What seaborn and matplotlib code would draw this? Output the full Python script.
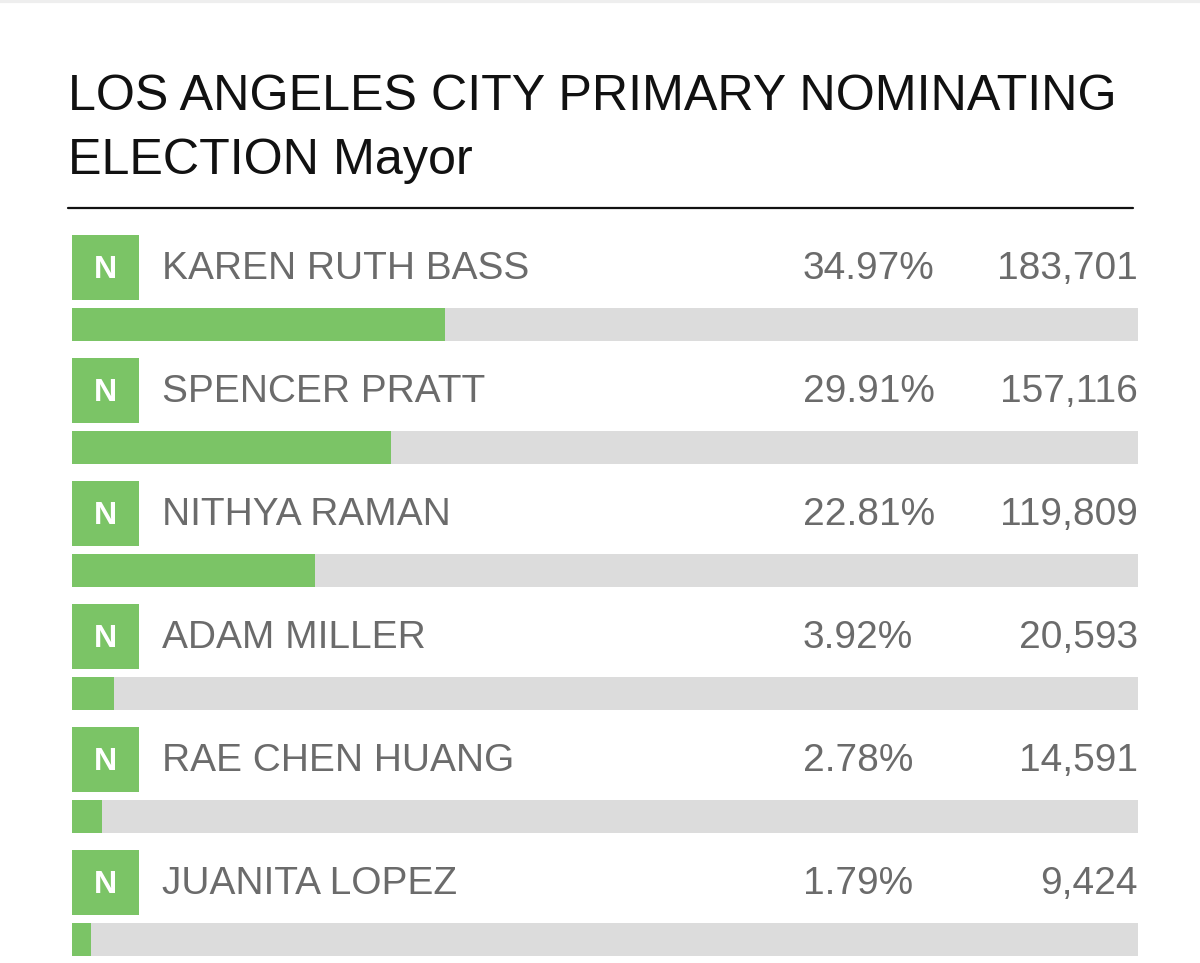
import pandas as pd
import seaborn as sns
import matplotlib.pyplot as plt
from matplotlib.lines import Line2D

# Data
candidates = ['KAREN RUTH BASS', 'SPENCER PRATT', 'NITHYA RAMAN',
              'ADAM MILLER', 'RAE CHEN HUANG', 'JUANITA LOPEZ']
percents = [34.97, 29.91, 22.81, 3.92, 2.78, 1.79]
votes = [183701, 157116, 119809, 20593, 14591, 9424]
badges = ['N', 'N', 'N', 'N', 'N', 'N']
title_lines = ['LOS ANGELES CITY PRIMARY NOMINATING', 'ELECTION Mayor']

df = pd.DataFrame({'candidate': candidates, 'pct': percents, 'votes': votes})
df['full'] = 100.0

GREEN = '#7bc466'
GRAY = '#dcdcdc'
TEXT = '#6b6b6b'

sns.set_theme(style='white')
plt.rcParams['font.family'] = ['Liberation Sans', 'DejaVu Sans']

W, H = 1200, 963
fig = plt.figure(figsize=(12, 9.63), dpi=100)
fig.patch.set_facecolor('white')

# axes in pixel layout: x 72..1138, y 235..956
row_gap = 123.0
bar_h = 33.0
first_bar_c = 324.5
top, bottom = 235, 956
left, right = 72, 1138
ax = fig.add_axes([left / W, 1 - bottom / H, (right - left) / W, (bottom - top) / H])
ymin = (top - first_bar_c) / row_gap
ymax = (bottom - first_bar_c) / row_gap

# background track and result bars
sns.barplot(data=df, y='candidate', x='full', color=GRAY, width=bar_h / row_gap,
            orient='h', ax=ax, saturation=1, linewidth=0)
sns.barplot(data=df, y='candidate', x='pct', color=GREEN, width=bar_h / row_gap,
            orient='h', ax=ax, saturation=1, linewidth=0)

ax.set_xlim(0, 100)
ax.set_ylim(ymax, ymin)
ax.set_axis_off()

px = 100.0 / (right - left)   # data units per pixel in x
badge_off = (267.5 - first_bar_c) / row_gap
badge_h = 65 / row_gap
badge_w = 67 * px

for i, (name, p, v, b) in enumerate(zip(candidates, percents, votes, badges)):
    yc = i + badge_off
    ax.barh(yc, badge_w, height=badge_h, left=0, color=GREEN, linewidth=0)
    ax.text(badge_w / 2, yc + 0.02, b, color='white', fontsize=23, fontweight='bold',
            ha='center', va='center')
    ax.text((162 - left) * px, yc + 0.01, name, color=TEXT, fontsize=28,
            ha='left', va='center')
    ax.text((803 - left) * px, yc + 0.01, f'{p:.2f}%', color=TEXT, fontsize=28,
            ha='left', va='center')
    ax.text((1138 - left) * px, yc + 0.01, f'{v:,}', color=TEXT, fontsize=28,
            ha='right', va='center')

# title
fig.text(68 / W, 1 - 110 / H, title_lines[0], fontsize=36.2, color='#111111',
         ha='left', va='baseline')
fig.text(68 / W, 1 - 174 / H, title_lines[1], fontsize=36.2, color='#111111',
         ha='left', va='baseline')

# rule under title
fig.add_artist(Line2D([68 / W, 1133 / W], [1 - 208 / H, 1 - 208 / H],
                      transform=fig.transFigure, color='#111111', linewidth=1.6))

# faint top shadow
fig.add_artist(Line2D([0, 1], [1 - 1.5 / H, 1 - 1.5 / H], transform=fig.transFigure,
                      color='#eeeeee', linewidth=3))

fig.savefig('out.png', dpi=100)
